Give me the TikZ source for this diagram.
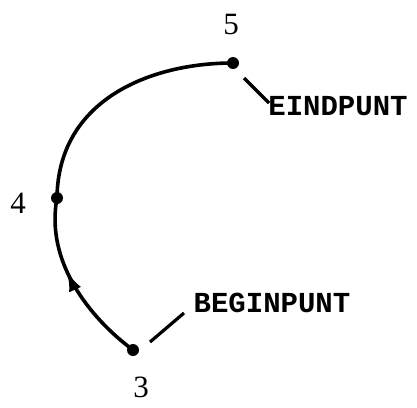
\documentclass[tikz,border=0pt]{standalone}
\usepackage{fontspec}
\setmainfont{Liberation Serif}
\newfontfamily\labfont{Liberation Mono}
\usetikzlibrary{decorations.markings,arrows.meta}
\begin{document}
\begin{tikzpicture}[x=1pt,y=-1pt,
  dot/.style={circle,fill=black,inner sep=0pt,minimum size=12pt},
  num/.style={font=\fontsize{31}{31}\selectfont,inner sep=0pt},
  tag/.style={font=\labfont\bfseries\fontsize{29}{29}\selectfont,inner sep=0pt},
  curve/.style={line width=3.6pt},
  leader/.style={line width=3.2pt}]
\useasboundingbox (0,0) rectangle (417,407);
\node[dot] (p3) at (133,350) {};
\node[dot] (p4) at (57,198) {};
\node[dot] (p5) at (233,63) {};
\node[num] (n5) at (231,25) {5};
\node[num] (n4) at (18,203) {4};
\node[num] (n3) at (141,387) {3};
\node[tag] (eind) at (338,106) {EINDPUNT};
\node[tag] (begin) at (272,303) {BEGINPUNT};
\draw[curve,postaction={decorate},decoration={markings,
  mark=at position 0.58 with {\arrow{Latex[length=20pt,width=13pt]}}}]
  (p3.center) .. controls (90,318) and (45,262) .. (p4.center);
\draw[curve] (p4.center) .. controls (58,100) and (150,63) .. (p5.center);
\coordinate (e1) at (244,78);
\coordinate (e2) at (269,103);
\coordinate (b1) at (150,342);
\coordinate (b2) at (184,313);
\draw[leader] (e1) -- (e2);
\draw[leader] (b1) -- (b2);
\end{tikzpicture}
\end{document}
